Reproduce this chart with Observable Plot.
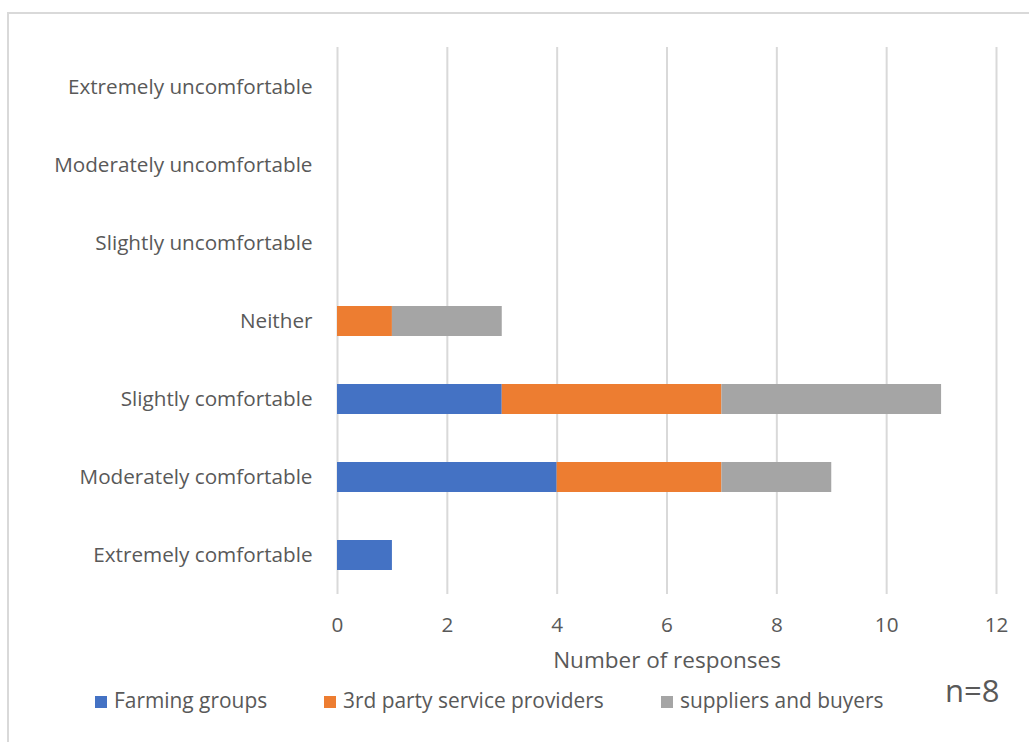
<!DOCTYPE html>
<html>
<head>
<meta charset="utf-8">
<script src="https://cdn.jsdelivr.net/npm/d3@7"></script>
<script src="https://cdn.jsdelivr.net/npm/@observablehq/plot@0.6"></script>
<style>
  html, body { margin: 0; padding: 0; background: #fff; }
  #wrap { position: relative; width: 1029px; height: 742px; overflow: hidden; font-family: "Open Sans", sans-serif; color: #595959; }
  #frame { position: absolute; left: 7px; top: 12px; width: 1100px; height: 800px; border: 2px solid #d9d9d9; box-sizing: border-box; }
  #chart { position: absolute; left: 0; top: 0; }
  .leg { position: absolute; top: 687px; font-size: 20.9px; line-height: 26px; white-space: nowrap; }
  .sw { display: inline-block; width: 12px; height: 12px; margin-right: 7px; vertical-align: 0px; }
  #n { position: absolute; left: 945px; top: 670px; font-size: 31px; line-height: 40px; }
</style>
</head>
<body>
<div id="wrap">
  <div id="frame"></div>
  <div id="chart"></div>
  <div id="legend"></div>
  <div id="n">n=8</div>
</div>
<script>
const categories = ["Extremely uncomfortable", "Moderately uncomfortable", "Slightly uncomfortable", "Neither", "Slightly comfortable", "Moderately comfortable", "Extremely comfortable"];
const seriesNames = ["Farming groups", "3rd party service providers", "suppliers and buyers"];
const farmingGroups = [0, 0, 0, 0, 3, 4, 1];
const thirdParty = [0, 0, 0, 1, 4, 3, 0];
const suppliersBuyers = [0, 0, 0, 2, 4, 2, 0];
const seriesColors = ["#4472c4", "#ed7d31", "#a5a5a5"];
const xTicks = [0, 2, 4, 6, 8, 10, 12];
const xLabel = "Number of responses";

const seriesValues = [farmingGroups, thirdParty, suppliersBuyers];
const rows = [];
seriesNames.forEach((s, si) => {
  categories.forEach((c, ci) => {
    rows.push({category: c, series: s, value: seriesValues[si][ci]});
  });
});

const chart = Plot.plot({
  width: 1029,
  height: 680,
  marginLeft: 337,
  marginRight: 33,
  marginTop: 47,
  marginBottom: 86,
  style: {fontFamily: "Open Sans, sans-serif", fontSize: "21px", color: "#595959", background: "transparent"},
  x: {domain: [0, 12]},
  y: {domain: categories, paddingInner: 0.62, paddingOuter: 0.31},
  color: {domain: seriesNames, range: seriesColors},
  marks: [
    Plot.gridX(xTicks, {stroke: "#d9d9d9", strokeOpacity: 1, strokeWidth: 2}),
    Plot.axisX(xTicks, {tickSize: 0, tickPadding: 23, label: null, fill: "#595959", fontSize: 20.7}),
    Plot.axisY({tickSize: 0, tickPadding: 25, label: null, fill: "#595959", fontSize: 20.7}),
    Plot.barX(rows, Plot.stackX({x: "value", y: "category", fill: "series", order: seriesNames})),
    Plot.text([xLabel], {frameAnchor: "bottom", dy: 73, fill: "#595959", fontSize: 22.5})
  ]
});
document.getElementById("chart").appendChild(chart);

const legendPos = [95, 324, 661];
const legend = document.getElementById("legend");
seriesNames.forEach((s, i) => {
  const d = document.createElement("div");
  d.className = "leg";
  d.style.left = legendPos[i] + "px";
  const sw = document.createElement("span");
  sw.className = "sw";
  sw.style.background = seriesColors[i];
  d.appendChild(sw);
  d.appendChild(document.createTextNode(s));
  legend.appendChild(d);
});
</script>
</body>
</html>
